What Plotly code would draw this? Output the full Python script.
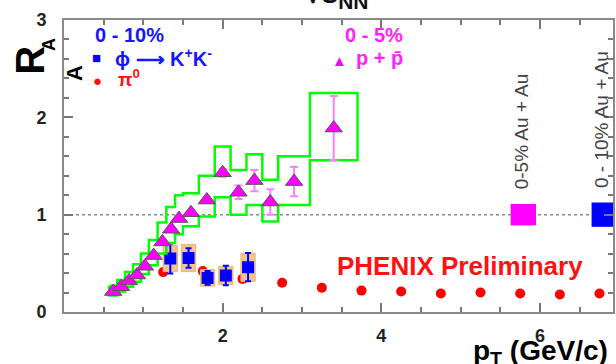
import plotly.graph_objects as go

# ---------------- data ----------------
# p + pbar, 0-5% central
p_pt = [0.62, 0.72, 0.82, 0.92, 1.02, 1.13, 1.24, 1.35, 1.45, 1.6, 1.8, 2.0, 2.2, 2.4, 2.6, 2.9, 3.4]
p_raa = [0.21, 0.26, 0.32, 0.38, 0.47, 0.58, 0.72, 0.85, 0.96, 1.02, 1.15, 1.43, 1.23, 1.35, 1.13, 1.34, 1.89]
p_stat = [0.01, 0.01, 0.01, 0.01, 0.01, 0.01, 0.01, 0.02, 0.02, 0.02, 0.03, 0.04, 0.07, 0.11, 0.13, 0.15, 0.33]
p_sys_hi = [0.27, 0.33, 0.41, 0.49, 0.60, 0.74, 0.92, 1.08, 1.20, 1.22, 1.40, 1.70, 1.46, 1.62, 1.36, 1.60, 2.25]
p_sys_lo = [0.17, 0.21, 0.26, 0.31, 0.39, 0.48, 0.60, 0.71, 0.80, 0.88, 0.98, 1.18, 1.00, 1.10, 0.93, 1.10, 1.56]
p_bin_lo = [0.57, 0.67, 0.77, 0.87, 0.97, 1.07, 1.18, 1.29, 1.40, 1.5, 1.7, 1.9, 2.1, 2.3, 2.5, 2.7, 3.1]
p_bin_hi = [0.67, 0.77, 0.87, 0.97, 1.07, 1.18, 1.29, 1.40, 1.5, 1.7, 1.9, 2.1, 2.3, 2.5, 2.7, 3.1, 3.7]

# phi -> K+K-, 0-10% central
phi_pt = [1.34, 1.57, 1.81, 2.04, 2.32]
phi_raa = [0.55, 0.555, 0.35, 0.375, 0.46]
phi_stat = [0.155, 0.10, 0.07, 0.10, 0.145]
phi_sys = [0.135, 0.14, 0.085, 0.094, 0.145]
phi_box_halfwidth = 0.09

# pi0, 0-10% central
pi0_pt = [1.25, 1.75, 2.25, 2.75, 3.25, 3.75, 4.25, 4.75, 5.25, 5.75, 6.25, 6.75]
pi0_raa = [0.41, 0.42, 0.34, 0.30, 0.25, 0.22, 0.21, 0.19, 0.20, 0.19, 0.18, 0.19]
pi0_stat = [0.03, 0.03, 0.02, 0.01, 0.01, 0.01, 0.01, 0.01, 0.01, 0.01, 0.01, 0.01]

# normalisation uncertainty boxes (0-5% and 0-10% Au+Au)
norm_pt = [5.79, 6.81]
norm_err = [0.11, 0.125]
norm_halfwidth = [0.16, 0.16]
norm_color = ["#ff00ff", "#0000ff"]

# axis ticks
x_ticks = [2, 4, 6]
y_ticks = [0, 1, 2, 3]

# ---------------- geometry helpers ----------------
W, H = 616, 364
L, R, T, B = 64, 1, 20, 52
X_MAX = 6.92
pw, ph = W - L - R, H - T - B


def px(x):
    return (x - L) / pw


def py(y):
    return (H - B - y) / ph


FONT = "Arial, Liberation Sans, sans-serif"

fig = go.Figure()

# pi0
fig.add_trace(go.Scatter(
    x=pi0_pt, y=pi0_raa, mode="markers",
    marker=dict(symbol="circle", size=10, color="#ff0000"),
    error_y=dict(type="data", array=pi0_stat, color="#ff0000", thickness=1.5, width=3),
    showlegend=False))

# phi systematic boxes
bx, by = [], []
for x, y, s in zip(phi_pt, phi_raa, phi_sys):
    bx += [x - phi_box_halfwidth, x + phi_box_halfwidth, x + phi_box_halfwidth, x - phi_box_halfwidth, x - phi_box_halfwidth, None]
    by += [y - s, y - s, y + s, y + s, y - s, None]
fig.add_trace(go.Scatter(x=bx, y=by, mode="lines", fill="toself",
                         fillcolor="#f4c48e", line=dict(color="#e8b47c", width=1),
                         showlegend=False))

# phi points
fig.add_trace(go.Scatter(
    x=phi_pt, y=phi_raa, mode="markers",
    marker=dict(symbol="square", size=12, color="#0000ff"),
    error_y=dict(type="data", array=phi_stat, color="#0000ff", thickness=2, width=3),
    showlegend=False))

# p+pbar systematic band outline
gx, gy = [], []
for lo, hi, yh in zip(p_bin_lo, p_bin_hi, p_sys_hi):
    gx += [lo, hi]
    gy += [yh, yh]
for lo, hi, yl in reversed(list(zip(p_bin_lo, p_bin_hi, p_sys_lo))):
    gx += [hi, lo]
    gy += [yl, yl]
gx.append(gx[0])
gy.append(gy[0])
fig.add_trace(go.Scatter(x=gx, y=gy, mode="lines",
                         line=dict(color="#00ff00", width=2.5), showlegend=False))

# p+pbar points
fig.add_trace(go.Scatter(
    x=p_pt, y=p_raa, mode="markers",
    marker=dict(symbol="triangle-up", size=15, color="#ff00ff", line=dict(color="#555555", width=1)),
    error_y=dict(type="data", array=p_stat, color="#ff80ff", thickness=2, width=4),
    showlegend=False))

# normalisation boxes
for x, e, hw, c in zip(norm_pt, norm_err, norm_halfwidth, norm_color):
    fig.add_trace(go.Scatter(
        x=[x - hw, x + hw, x + hw, x - hw, x - hw],
        y=[1 - e, 1 - e, 1 + e, 1 + e, 1 - e],
        mode="lines", fill="toself", fillcolor=c, line=dict(color=c, width=0),
        showlegend=False))

# dotted line at 1
fig.add_shape(type="line", xref="x", yref="y", x0=0, x1=X_MAX, y0=1, y1=1,
              line=dict(color="#888888", width=1.5, dash="dot"), layer="below")


def ann(text, x, y, size, color, xanchor="center", angle=0, bold=True):
    fig.add_annotation(
        text=f"<b>{text}</b>" if bold else text, x=px(x), y=py(y), xref="paper", yref="paper",
        showarrow=False, xanchor=xanchor, yanchor="middle", textangle=angle,
        font=dict(family=FONT, size=size, color=color))


# legends
ann("0 - 10%", 130, 35, 20, "#1515ff")
ann("■", 97, 58, 15, "#0000ff")
ann("ϕ ⟶ K<sup>+</sup>K<sup>-</sup>", 113, 58, 20, "#1515ff", xanchor="left")
ann("●", 98, 80, 15, "#ff1111")
ann("π<sup>0</sup>", 116, 78, 19, "#ff1111", xanchor="left")
ann("0 - 5%", 375, 35, 20, "#ff22ff")
ann("▲", 341, 60, 15, "#ff00ff")
ann("p + p\u0304", 355, 58, 20, "#ff22ff", xanchor="left")

# right-side labels
ann("0-5% Au + Au", 523, 131, 19, "#444444", angle=-90, bold=False)
ann("0 - 10% Au + Au", 603, 120, 19, "#444444", angle=-90, bold=False)

# PHENIX Preliminary
ann("PHENIX Preliminary", 461, 266, 26, "#ff1111")

# cut-off top text
ann("√s<sub>NN</sub>", 338, -6, 30, "#111111")

# y axis title (rotated)
ann("R", 29.5, 60, 40, "#000000", angle=-90)
ann("A", 49, 45, 18, "#000000", angle=-90)
ann("A", 75, 73, 22, "#000000", angle=-90)

# x axis title
ann("p<sub>T</sub> (GeV/c)", 472, 352, 28, "#000000", xanchor="left")

axis_common = dict(showline=True, linecolor="#8a8a8a", linewidth=2, mirror="ticks",
                   ticks="inside", ticklen=9, tickwidth=1.5, tickcolor="#777777",
                   showgrid=False, zeroline=False,
                   tickfont=dict(family=FONT, size=18, color="#222222"))

fig.update_layout(
    width=W, height=H,
    margin=dict(l=L, r=R, t=T, b=B),
    paper_bgcolor="white", plot_bgcolor="white",
    xaxis=dict(range=[0, X_MAX], tickvals=x_ticks, ticktext=[f"<b>{v}</b>" for v in x_ticks],
               ticklabelstandoff=6,
               minor=dict(dtick=0.5, tick0=0, ticks="inside", ticklen=5, tickwidth=1.5,
                          tickcolor="#777777", showgrid=False),
               **axis_common),
    yaxis=dict(range=[0, 3], tickvals=y_ticks, ticktext=[f"<b>{v}</b>" for v in y_ticks],
               ticklabelstandoff=12,
               minor=dict(dtick=0.2, tick0=0, ticks="inside", ticklen=5, tickwidth=1.5,
                          tickcolor="#777777", showgrid=False),
               **axis_common),
    showlegend=False,
)

fig.write_html("out.html", config={"displayModeBar": False},
               post_script="document.body.style.margin='0';document.body.style.overflow='hidden';")
